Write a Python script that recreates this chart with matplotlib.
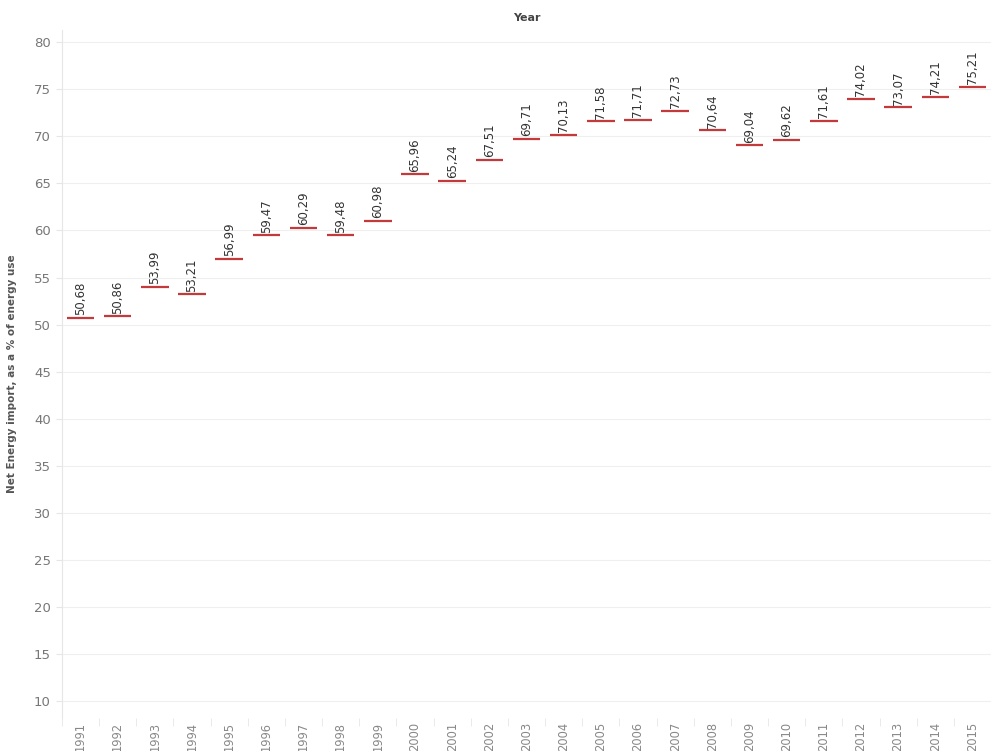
import matplotlib
matplotlib.use("Agg")
import matplotlib.pyplot as plt
import numpy as np

# data
years = [str(y) for y in range(1991, 2016)]
values = [50.68, 50.86, 53.99, 53.21, 56.99, 59.47, 60.29, 59.48, 60.98, 65.96,
          65.24, 67.51, 69.71, 70.13, 71.58, 71.71, 72.73, 70.64, 69.04, 69.62,
          71.61, 74.02, 73.07, 74.21, 75.21]
yticks = [10, 15, 20, 25, 30, 35, 40, 45, 50, 55, 60, 65, 70, 75, 80]

fig = plt.figure(figsize=(9.91, 7.51), dpi=100)
ax = fig.add_axes([62/991, 1-718/751, 1-62/991, (718-30)/751])

x = np.arange(len(years))
ax.hlines(values, x-0.37, x+0.37, color="#c3393c", linewidth=1.6, zorder=3)
for xi, v in zip(x, values):
    ax.text(xi, v+0.3, ("%.2f" % v).replace(".", ","), rotation=90,
            ha="center", va="bottom", fontsize=8.5, color="#333333")

ax.set_xlim(-0.5, len(years)-0.5)
ax.set_ylim(8.2, 81.3)
ax.set_yticks(yticks)
ax.set_xticks(x)
ax.set_xticklabels(years, rotation=90, va="top")
ax.set_xticks(np.arange(len(years)+1)-0.5, minor=True)
ax.tick_params(axis="x", which="major", length=0, pad=3, labelsize=8.3, labelcolor="#888888")
ax.tick_params(axis="x", which="minor", length=6, color="#e6e6e6")
ax.tick_params(axis="y", length=4, color="#e6e6e6", labelsize=9.5, labelcolor="#777777", pad=4)

ax.grid(axis="y", color="#efefef", linewidth=0.8)
ax.set_axisbelow(True)
for s in ["top", "right", "bottom"]:
    ax.spines[s].set_visible(False)
ax.spines["left"].set_color("#e6e6e6")

ax.set_ylabel("Net Energy import, as a % of energy use", fontsize=7.5,
              fontweight="bold", color="#555555", labelpad=12)
fig.text(0.5+31/991, 1-18/751, "Year", ha="center", va="center",
         fontsize=8, fontweight="bold", color="#444444")

fig.savefig("out.png", dpi=100)
